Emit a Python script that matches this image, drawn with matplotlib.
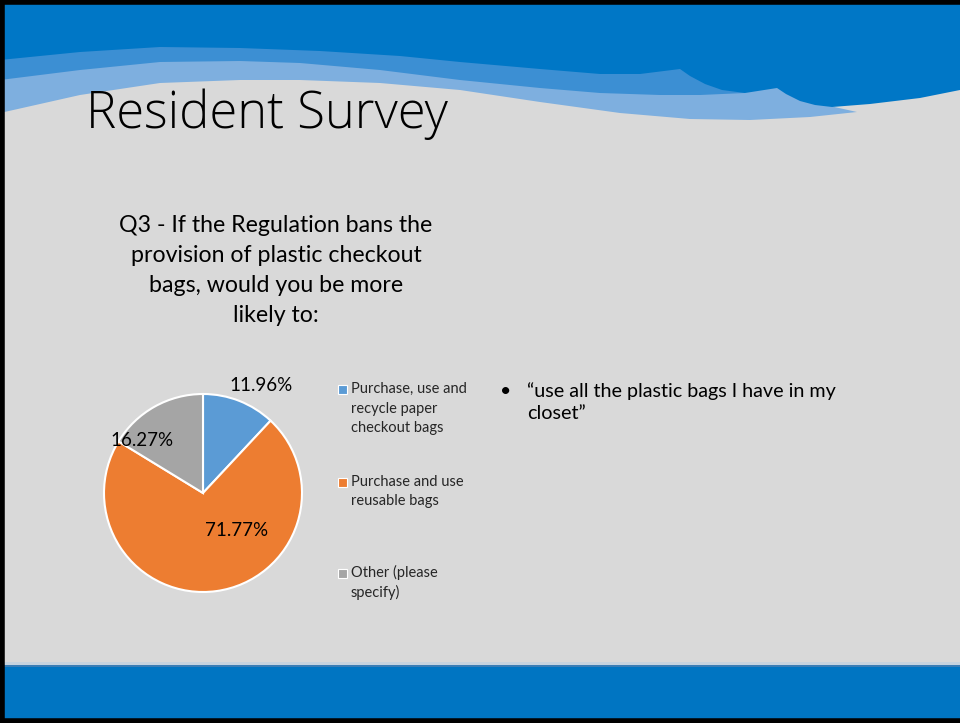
import matplotlib
matplotlib.use('Agg')
import matplotlib.pyplot as plt
from matplotlib.patches import Rectangle

# survey answers for Q3
categories = [['Purchase, use and', 'recycle paper', 'checkout bags'],
              ['Purchase and use', 'reusable bags'],
              ['Other (please', 'specify)']]
shares = [11.96, 71.77, 16.27]
slice_colors = ['#5B9BD5', '#ED7D31', '#A5A5A5']

question = ['Q3 - If the Regulation bans the', 'provision of plastic checkout',
            'bags, would you be more', 'likely to:']
comment = ['\u201cuse all the plastic bags I have in my', 'closet\u201d']

plt.rcParams['font.family'] = ['Lato', 'DejaVu Sans']

W, H = 960, 723
fig = plt.figure(figsize=(W / 100, H / 100), dpi=100)
fig.patch.set_facecolor('#D9D9D9')

# slide background drawn in pixel units (y down)
bg = fig.add_axes([0, 0, 1, 1])
bg.set_xlim(0, W)
bg.set_ylim(H, 0)
bg.axis('off')
bg.add_patch(Rectangle((0, 0), W, H, color='#D9D9D9', zorder=0))

# header waves: light band, middle band, dark band on top
light_edge = [(0, 113), (80, 95), (160, 83), (240, 80), (300, 80), (380, 83), (460, 90),
              (540, 102), (620, 113), (690, 119), (750, 120), (810, 117), (857, 112), (830, 106)]
bg.fill([p[0] for p in light_edge] + [830, 0], [p[1] for p in light_edge] + [0, 0],
        color='#7EAFDF', lw=0, zorder=1)

mid_edge = [(0, 80), (80, 70), (160, 62), (240, 61), (300, 63), (380, 70), (460, 80),
            (540, 88), (600, 93), (660, 95), (700, 95), (745, 93)]
bg.fill([p[0] for p in mid_edge] + [745, 0], [p[1] for p in mid_edge] + [0, 0],
        color='#3C8FD3', lw=0, zorder=2)

dark_edge = [(0, 60), (80, 52), (160, 47), (240, 48), (320, 51), (400, 56), (460, 62),
             (540, 69), (600, 74), (640, 74), (680, 69), (690, 76), (705, 84), (722, 90),
             (745, 93), (777, 88), (786, 94), (800, 101), (815, 105), (832, 107),
             (870, 104), (920, 98), (960, 90)]
bg.fill([p[0] for p in dark_edge] + [960, 0], [p[1] for p in dark_edge] + [0, 0],
        color='#0077C6', lw=0, zorder=3)

# footer bar
bg.add_patch(Rectangle((0, 662), W, 4, color='#C6D3DF', lw=0, zorder=1))
bg.add_patch(Rectangle((0, 665), W, 2, color='#3A7DB5', lw=0, zorder=1))
bg.add_patch(Rectangle((0, 667), W, 56, color='#0075C2', lw=0, zorder=1))

# frame (left, top, bottom)
bg.plot([2, 2], [0, H], color='black', lw=4, zorder=5)
bg.plot([0, W], [2, 2], color='black', lw=4, zorder=5)
bg.plot([0, W], [H - 2, H - 2], color='black', lw=4, zorder=5)

bg.text(86, 128, 'Resident Survey', fontsize=36.5, fontweight='light',
        family=['Open Sans', 'DejaVu Sans'], color='black',
        va='baseline', ha='left', zorder=6)

for i, line in enumerate(question):
    bg.text(276, 232 + 30 * i, line, fontsize=16.7, color='black',
            ha='center', va='baseline', zorder=6)

bg.text(500, 397, '\u2022', fontsize=14, color='black', ha='left', va='baseline', zorder=6)
for i, line in enumerate(comment):
    bg.text(527, 397 + 22 * i, line, fontsize=14.2, color='black',
            ha='left', va='baseline', zorder=6)

# pie
ax = fig.add_axes([104 / W, (H - 592) / H, 198 / W, 198 / H])
wedges, _, pct = ax.pie(shares, colors=slice_colors, startangle=90, counterclock=False,
                        autopct='%.2f%%', radius=1,
                        wedgeprops=dict(edgecolor='white', linewidth=1.5),
                        textprops=dict(fontsize=13.5, color='black'))
ax.set_xlim(-1, 1)
ax.set_ylim(-1, 1)
ax.set_aspect('equal')
label_pos = [(0.59, 1.09), (0.34, -0.38), (-0.62, 0.53)]
for t, p in zip(pct, label_pos):
    t.set_position(p)
    t.set_ha('center')
    t.set_va('center')
    t.set_clip_on(False)

# legend entries
legend_y = [389, 482, 573]
for w, lines, y in zip(wedges, categories, legend_y):
    bg.add_patch(Rectangle((338, y - 4.5), 9, 9, facecolor=w.get_facecolor(),
                           edgecolor='white', lw=0.8, zorder=6))
    for i, line in enumerate(lines):
        bg.text(351, y + 4 + 19.5 * i, line, fontsize=10.5, color='#262626',
                ha='left', va='baseline', zorder=6)

fig.savefig('out.png', dpi=100, facecolor=fig.get_facecolor())
